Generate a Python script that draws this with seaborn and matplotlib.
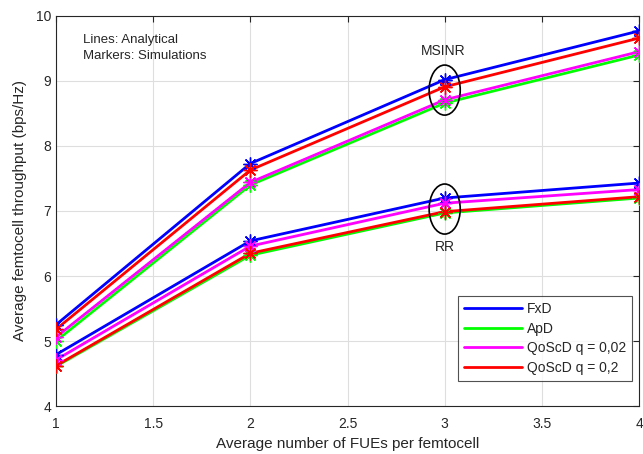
import matplotlib
matplotlib.use("Agg")
import matplotlib.pyplot as plt
from matplotlib.patches import Ellipse
import seaborn as sns
import pandas as pd

x_vals = [1, 2, 3, 4]
schemes = ["FxD", "ApD", "QoScD q = 0,02", "QoScD q = 0,2"]
colors = ["#0000FF", "#00FF00", "#FF00FF", "#FF0000"]

msinr_fxd = [5.25, 7.73, 9.02, 9.77]
msinr_apd = [5.00, 7.40, 8.66, 9.40]
msinr_q002 = [5.06, 7.44, 8.71, 9.45]
msinr_q02 = [5.18, 7.63, 8.91, 9.66]

rr_fxd = [4.79, 6.54, 7.20, 7.43]
rr_apd = [4.61, 6.32, 6.97, 7.20]
rr_q002 = [4.71, 6.46, 7.12, 7.33]
rr_q02 = [4.62, 6.35, 6.99, 7.22]

xticks = [1, 1.5, 2, 2.5, 3, 3.5, 4]
yticks = [4, 5, 6, 7, 8, 9, 10]

rows = []
for pol, series in [("MSINR", [msinr_fxd, msinr_apd, msinr_q002, msinr_q02]),
                    ("RR", [rr_fxd, rr_apd, rr_q002, rr_q02])]:
    for s, vals in zip(schemes, series):
        for xv, v in zip(x_vals, vals):
            rows.append({"x": xv, "y": v, "scheme": s, "policy": pol})
df = pd.DataFrame(rows)

sns.set_style("white")
plt.rcParams["font.family"] = ["Arial", "Liberation Sans", "DejaVu Sans"]

fig = plt.figure(figsize=(6.43, 4.54), dpi=100)
ax = fig.add_axes([0.0871, 0.1057, 0.9067, 0.8591])

palette = dict(zip(schemes, colors))
sns.lineplot(data=df, x="x", y="y", hue="scheme", units="policy", estimator=None,
             palette=palette, hue_order=schemes, linewidth=2, ax=ax, legend=True)
for s in schemes:
    sub = df[df.scheme == s]
    ax.plot(sub["x"], sub["y"], linestyle="none", marker=(8, 2, 0), markersize=10,
            markeredgewidth=1.0, color=palette[s], zorder=3)

ax.add_patch(Ellipse((3, 8.86), 0.16, 0.77, fill=False, edgecolor="black", linewidth=1.2, zorder=4))
ax.add_patch(Ellipse((3, 7.03), 0.16, 0.77, fill=False, edgecolor="black", linewidth=1.2, zorder=4))
ax.text(2.99, 9.46, "MSINR", ha="center", va="center", fontsize=10)
ax.text(3.0, 6.45, "RR", ha="center", va="center", fontsize=10)
ax.text(1.14, 9.51, "Lines: Analytical\nMarkers: Simulations", ha="left", va="center",
        fontsize=9.5, linespacing=1.5)

ax.set_xlim(1, 4)
ax.set_ylim(4, 10)
ax.set_xticks(xticks)
ax.set_xticklabels([f"{t:g}" for t in xticks])
ax.set_yticks(yticks)
ax.grid(True, color="#dedede", linewidth=0.8)
ax.set_axisbelow(True)
for sp in ax.spines.values():
    sp.set_color("#262626")
    sp.set_linewidth(0.8)
    sp.set_visible(True)
ax.tick_params(direction="in", length=4, labelsize=10, colors="#262626", top=True, right=True)
ax.tick_params(axis="x", pad=8)
ax.set_xlabel("Average number of FUEs per femtocell", fontsize=11, labelpad=4)
ax.set_ylabel("Average femtocell throughput (bps/Hz)", fontsize=11, labelpad=6)

leg = ax.legend(loc="lower right", bbox_to_anchor=(0.988, 0.064), borderaxespad=0,
                fontsize=10, frameon=True,
                fancybox=False, edgecolor="#262626", handlelength=4.2, borderpad=0.45,
                labelspacing=0.4, handletextpad=0.3)
leg.get_frame().set_linewidth(0.8)
for h in leg.get_lines():
    h.set_linewidth(2)

fig.savefig("out.png", dpi=100)
